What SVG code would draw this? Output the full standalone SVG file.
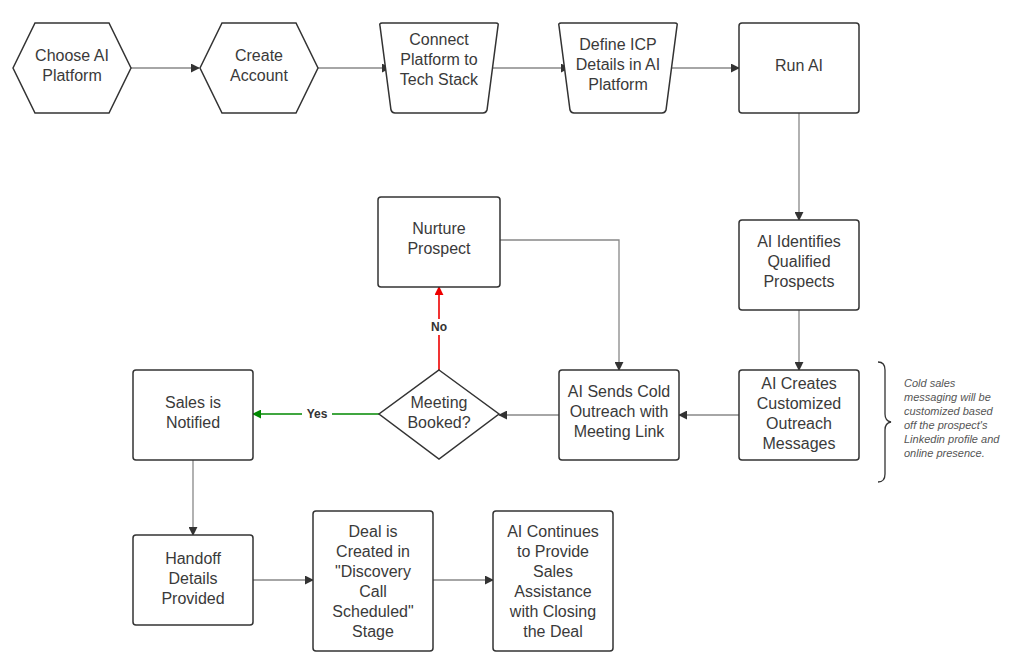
<svg xmlns="http://www.w3.org/2000/svg" width="1017" height="662" viewBox="0 0 1017 662">
<defs>
<style>
.n{fill:#fff;stroke:#333;stroke-width:1.5}
.t{font-family:"Liberation Sans",Arial,sans-serif;font-size:16px;fill:#3a3a3a;text-anchor:middle}
.c{fill:none;stroke:#888;stroke-width:1.3}
.note{font-family:"Liberation Sans",Arial,sans-serif;font-size:11px;font-style:italic;fill:#555}
.lbl{font-family:"Liberation Sans",Arial,sans-serif;font-size:12px;font-weight:bold;fill:#333;text-anchor:middle}
</style>
<marker id="a" viewBox="0 0 10 10" refX="9" refY="5" markerWidth="9" markerHeight="9" markerUnits="userSpaceOnUse" orient="auto"><path d="M0,0L10,5L0,10z" fill="#333"/></marker>
<marker id="ar" viewBox="0 0 10 10" refX="9" refY="5" markerWidth="9" markerHeight="9" markerUnits="userSpaceOnUse" orient="auto"><path d="M0,0L10,5L0,10z" fill="#e00"/></marker>
<marker id="ag" viewBox="0 0 10 10" refX="9" refY="5" markerWidth="9" markerHeight="9" markerUnits="userSpaceOnUse" orient="auto"><path d="M0,0L10,5L0,10z" fill="#080"/></marker>
</defs>
<rect width="1017" height="662" fill="#fff"/>
<g id="connectors">
<path class="c" d="M131,68H199" marker-end="url(#a)"/>
<path class="c" d="M318,68H390" marker-end="url(#a)"/>
<path class="c" d="M490,68H569" marker-end="url(#a)"/>
<path class="c" d="M669,68H739" marker-end="url(#a)"/>
<path class="c" d="M799,113V220" marker-end="url(#a)"/>
<path class="c" d="M799,310V370" marker-end="url(#a)"/>
<path class="c" d="M739,415H679" marker-end="url(#a)"/>
<path class="c" d="M559,415H499" marker-end="url(#a)"/>
<path d="M439,370V287" fill="none" stroke="#e00" stroke-width="1.6" marker-end="url(#ar)"/>
<path d="M379,414H253" fill="none" stroke="#080" stroke-width="1.6" marker-end="url(#ag)"/>
<path class="c" d="M500,240H619V370" marker-end="url(#a)"/>
<path class="c" d="M193,460V535" marker-end="url(#a)"/>
<path class="c" d="M253,580H313" marker-end="url(#a)"/>
<path class="c" d="M433,580H493" marker-end="url(#a)"/>
<rect x="426" y="319" width="26" height="16" fill="#fff"/>
<text class="lbl" x="439" y="331">No</text>
<rect x="302" y="406" width="30" height="16" fill="#fff"/>
<text class="lbl" x="317" y="418">Yes</text>
</g>
<g id="choose"><path class="n" d="M13,68L35,23H109L131,68L109,113H35Z"/><text class="t" x="72" y="61">Choose AI</text><text class="t" x="72" y="81">Platform</text></g>
<g id="create"><path class="n" d="M200,68L222,23H296L318,68L296,113H222Z"/><text class="t" x="259" y="61">Create</text><text class="t" x="259" y="81">Account</text></g>
<g id="connect"><path class="n" d="M382,23H496Q499,23 498,26L487,110Q486,113 483,113H395Q392,113 391,110L380,26Q379,23 382,23Z"/><text class="t" x="439" y="45">Connect</text><text class="t" x="439" y="65">Platform to</text><text class="t" x="439" y="85">Tech Stack</text></g>
<g id="define"><path class="n" d="M561,23H675Q678,23 677,26L666,110Q665,113 662,113H574Q571,113 570,110L559,26Q558,23 561,23Z"/><text class="t" x="618" y="50">Define ICP</text><text class="t" x="618" y="70">Details in AI</text><text class="t" x="618" y="90">Platform</text></g>
<g id="run"><rect class="n" x="739" y="23" width="120" height="90" rx="3"/><text class="t" x="799" y="71">Run AI</text></g>
<g id="identifies"><rect class="n" x="739" y="220" width="120" height="90" rx="3"/><text class="t" x="799" y="247">AI Identifies</text><text class="t" x="799" y="267">Qualified</text><text class="t" x="799" y="287">Prospects</text></g>
<g id="creates"><rect class="n" x="739" y="370" width="120" height="90" rx="3"/><text class="t" x="799" y="389">AI Creates</text><text class="t" x="799" y="409">Customized</text><text class="t" x="799" y="429">Outreach</text><text class="t" x="799" y="449">Messages</text></g>
<g id="sends"><rect class="n" x="559" y="370" width="120" height="90" rx="3"/><text class="t" x="619" y="397">AI Sends Cold</text><text class="t" x="619" y="417">Outreach with</text><text class="t" x="619" y="437">Meeting Link</text></g>
<g id="meeting"><path class="n" d="M439,370L499,414L439,459L379,414Z"/><text class="t" x="439" y="408">Meeting</text><text class="t" x="439" y="428">Booked?</text></g>
<g id="nurture"><rect class="n" x="378" y="197" width="122" height="90" rx="3"/><text class="t" x="439" y="234">Nurture</text><text class="t" x="439" y="254">Prospect</text></g>
<g id="sales"><rect class="n" x="133" y="370" width="120" height="90" rx="3"/><text class="t" x="193" y="408">Sales is</text><text class="t" x="193" y="428">Notified</text></g>
<g id="handoff"><rect class="n" x="133" y="535" width="120" height="90" rx="3"/><text class="t" x="193" y="564">Handoff</text><text class="t" x="193" y="584">Details</text><text class="t" x="193" y="604">Provided</text></g>
<g id="deal"><rect class="n" x="313" y="511" width="120" height="140" rx="3"/><text class="t" x="373" y="537">Deal is</text><text class="t" x="373" y="557">Created in</text><text class="t" x="373" y="577">"Discovery</text><text class="t" x="373" y="597">Call</text><text class="t" x="373" y="617">Scheduled"</text><text class="t" x="373" y="637">Stage</text></g>
<g id="continues"><rect class="n" x="493" y="511" width="120" height="140" rx="3"/><text class="t" x="553" y="537">AI Continues</text><text class="t" x="553" y="557">to Provide</text><text class="t" x="553" y="577">Sales</text><text class="t" x="553" y="597">Assistance</text><text class="t" x="553" y="617">with Closing</text><text class="t" x="553" y="637">the Deal</text></g>
<g id="note">
<path d="M878,362Q885,362 885,370V414Q885,421 891,422Q885,423 885,430V474Q885,482 878,482" fill="none" stroke="#333" stroke-width="1.3"/>
<text class="note" x="904" y="387">Cold sales</text>
<text class="note" x="904" y="401">messaging will be</text>
<text class="note" x="904" y="415">customized based</text>
<text class="note" x="904" y="429">off the prospect's</text>
<text class="note" x="904" y="443">Linkedin profile and</text>
<text class="note" x="904" y="457">online presence.</text>
</g>
</svg>
